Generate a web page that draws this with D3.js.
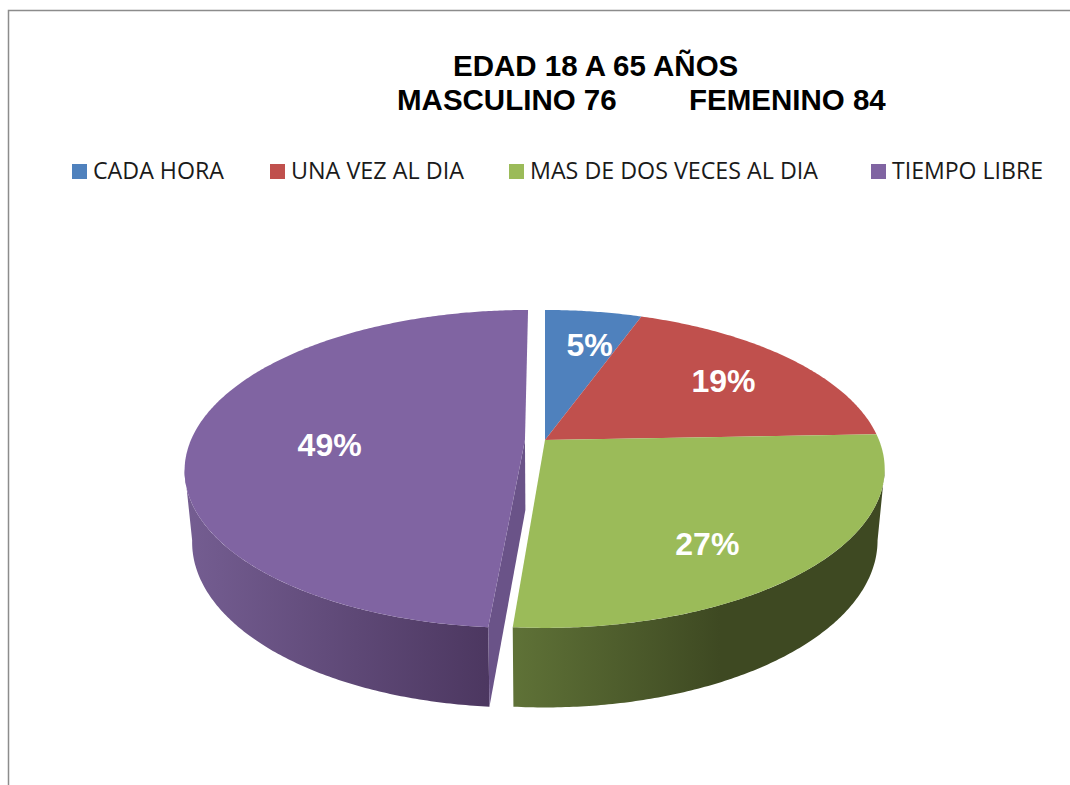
<!DOCTYPE html>
<html>
<head>
<meta charset="utf-8">
<script src="https://cdn.jsdelivr.net/npm/d3@7"></script>
<style>
  html, body { margin: 0; padding: 0; background: white; overflow: hidden; }
  svg { display: block; }
</style>
</head>
<body>
<script>
var categories = ['CADA HORA', 'UNA VEZ AL DIA', 'MAS DE DOS VECES AL DIA', 'TIEMPO LIBRE'];
var percents = [5.49, 18.9, 26.87, 48.74];
var titleLines = ['EDAD 18 A 65 AÑOS', 'MASCULINO 76', 'FEMENINO 84'];

var w = 1070;
var h = 785;
var colours = ['#4f81bd', '#c0504d', '#9bbb59', '#8064a2'];

// perspective of the pie: top face and the lower face of the disc
var cx = 545;
var persp = 0.182;
var topFace = { r: 334, s: 153.7, y: 440 };
var lowFace = { r: 327, s: 161.5, y: 510 };
var explode = 0.06;
var tau = Math.PI * 2;

var svg = d3.select('body')
  .append('svg')
  .attr('width', w)
  .attr('height', h);

var colour = d3.scaleOrdinal().domain(categories).range(colours);

var pie = d3.pie().sort(null).value(function(d){ return d; });
var slices = pie(percents);

function project(face, px, py, offset){
  var ox = px - offset;
  var dw = 1 + persp * py;
  return [cx + face.r * ox / dw, face.y - face.s * py / dw];
}

function rimPoints(face, a0, a1, offset){
  var n = Math.ceil(Math.abs(a1 - a0) / 0.01);
  return d3.range(n + 1).map(function(i){
    var a = a0 + (a1 - a0) * i / n;
    return project(face, Math.sin(a), Math.cos(a), offset);
  });
}

var line = d3.line();
var silhouette = Math.acos(-persp);

// shading of the outer walls
var defs = svg.append('defs');
function wallGradient(id, x1, x2, from, to){
  var g = defs.append('linearGradient')
    .attr('id', id)
    .attr('gradientUnits', 'userSpaceOnUse')
    .attr('x1', x1).attr('x2', x2)
    .attr('y1', 0).attr('y2', 0);
  g.append('stop').attr('offset', 0).attr('stop-color', from);
  g.append('stop').attr('offset', 1).attr('stop-color', to);
}
wallGradient('wallPurple', 190, 490, '#745d91', '#4c3760');
wallGradient('wallGreen', 513, 720, '#5f7237', '#3e4922');

// frame
svg.append('path')
  .attr('d', 'M8.5,785V10.5H1070')
  .attr('fill', 'none')
  .attr('stroke', '#8c8c8c')
  .attr('stroke-width', 1.5);

// title
var title = svg.append('g')
  .attr('font-family', '"Liberation Sans", Arial, sans-serif')
  .attr('font-weight', 'bold')
  .attr('font-size', '29.5px')
  .attr('fill', 'black');
title.append('text').attr('x', 453).attr('y', 76).text(titleLines[0]);
title.append('text').attr('x', 397).attr('y', 110).text(titleLines[1]);
title.append('text').attr('x', 689).attr('y', 110).text(titleLines[2]);

// legend
var legendX = [72, 270, 509, 871];
var legendLen = [131, 173, 288, 151];
var legend = svg.selectAll('.legend')
  .data(categories)
  .enter()
  .append('g')
  .attr('class', 'legend');
legend.append('rect')
  .attr('x', function(d, i){ return legendX[i]; })
  .attr('y', 164)
  .attr('width', 15)
  .attr('height', 15)
  .attr('fill', function(d){ return colour(d); });
legend.append('text')
  .attr('x', function(d, i){ return legendX[i] + 21; })
  .attr('y', 179)
  .attr('font-family', '"Open Sans", sans-serif')
  .attr('font-size', '23px')
  .attr('textLength', function(d, i){ return legendLen[i]; })
  .attr('lengthAdjust', 'spacingAndGlyphs')
  .attr('fill', '#1a1a1a')
  .text(function(d){ return d; });

// exploded offset only on the last slice
function sliceOffset(i){
  return i === slices.length - 1 ? explode : 0;
}

var pieG = svg.append('g');
var purple = slices[3];
var green = slices[2];

// purple outer wall
pieG.append('path')
  .attr('d', line(
    rimPoints(topFace, purple.startAngle, tau - silhouette, explode)
      .concat(rimPoints(lowFace, tau - silhouette, purple.startAngle, explode))) + 'Z')
  .attr('fill', 'url(#wallPurple)');

// purple cut wall, facing the gap
pieG.append('path')
  .attr('d', line([
    project(topFace, 0, 0, explode),
    project(lowFace, 0, 0, explode),
    project(lowFace, Math.sin(purple.startAngle), Math.cos(purple.startAngle), explode),
    project(topFace, Math.sin(purple.startAngle), Math.cos(purple.startAngle), explode)
  ]) + 'Z')
  .attr('fill', '#6a5388');

// green outer wall
pieG.append('path')
  .attr('d', line(
    rimPoints(topFace, silhouette, green.endAngle, 0)
      .concat(rimPoints(lowFace, green.endAngle, silhouette, 0))) + 'Z')
  .attr('fill', 'url(#wallGreen)');

// top faces
pieG.selectAll('.top')
  .data(slices)
  .enter()
  .append('path')
  .attr('class', 'top')
  .attr('d', function(d){
    var off = sliceOffset(d.index);
    return line([project(topFace, 0, 0, off)]
      .concat(rimPoints(topFace, d.startAngle, d.endAngle, off))) + 'Z';
  })
  .attr('fill', function(d, i){ return colour(categories[i]); });

// percentage labels
var labelNudge = [[9, -1], [3, 0], [-16, 18], [37, 9]];
pieG.selectAll('.pct')
  .data(slices)
  .enter()
  .append('text')
  .attr('class', 'pct')
  .attr('transform', function(d){
    var mid = (d.startAngle + d.endAngle) / 2;
    var p = project(topFace, 0.7 * Math.sin(mid), 0.7 * Math.cos(mid), sliceOffset(d.index));
    var n = labelNudge[d.index];
    return 'translate(' + (p[0] + n[0]) + ',' + (p[1] + n[1]) + ')';
  })
  .attr('dy', '0.36em')
  .attr('text-anchor', 'middle')
  .attr('font-family', '"Liberation Sans", Arial, sans-serif')
  .attr('font-weight', 'bold')
  .attr('font-size', '32px')
  .attr('fill', 'white')
  .text(function(d){ return Math.round(d.value) + '%'; });
</script>
</body>
</html>
